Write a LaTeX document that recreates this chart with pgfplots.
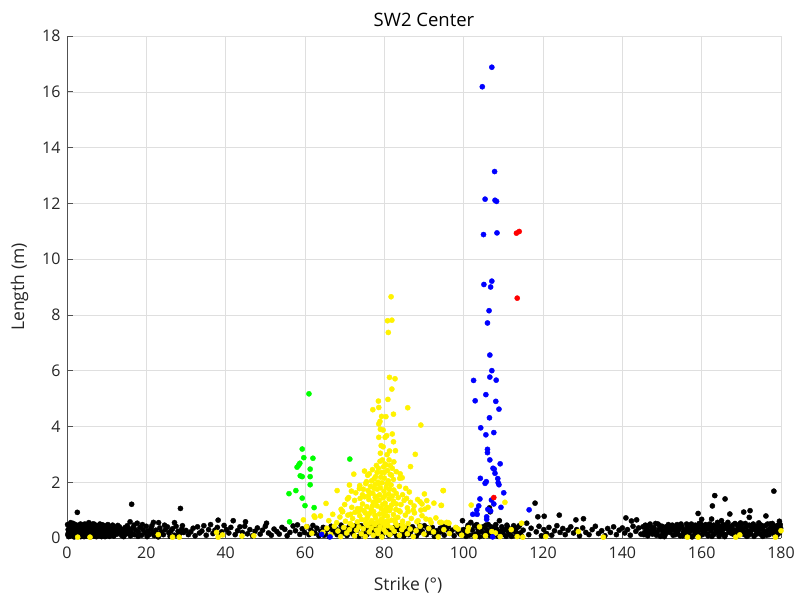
\documentclass[border=0pt]{standalone}
\usepackage{pgfplots}
\pgfplotsset{compat=1.18}
\usepackage{fontspec}
\setmainfont{Open Sans}
\definecolor{axgray}{RGB}{38,38,38}
\definecolor{gridgray}{RGB}{223,223,223}
\begin{document}
\begin{tikzpicture}
\path[use as bounding box] (-67bp,-62bp) rectangle (731bp,538bp);
\begin{axis}[
  scale only axis, width=714bp, height=502bp,
  at={(0,0)}, anchor=south west,
  xmin=0, xmax=180, ymin=0, ymax=18,
  xtick={0,20,...,180}, ytick={0,2,...,18},
  axis x line*=bottom, axis y line*=left,
  axis line style={-, draw=axgray!80, line width=0.6pt},
  tick style={draw=axgray!80, line width=0.6pt},
  tick align=inside, major tick length=6bp,
  grid=major, grid style={draw=gridgray, line width=0.5pt},
  ticklabel style={font=\fontsize{16bp}{18bp}\selectfont, text=axgray},
  xticklabel style={yshift=-5bp},
  yticklabel style={xshift=-3bp},
  /pgf/number format/assume math mode=true,
  xlabel={Strike (°)}, ylabel={Length (m)},
  label style={font=\fontsize{17.5bp}{20bp}\selectfont, text=axgray},
  xlabel style={yshift=-12bp, xshift=-16bp},
  ylabel style={yshift=7bp},
  title={SW2 Center},
  title style={font=\fontsize{18.5bp}{20bp}\selectfont, text=black, yshift=0bp},
  clip=false,
]
% black
\addplot[black, only marks, mark=*, mark size=2.6pt, mark options={draw=black, fill=black}] coordinates {
(0.2,0.12)(0.3,0.30)(0.4,0.05)(0.5,0.22)(0.6,0.40)(0.7,0.15)(0.8,0.33)(0.9,0.08)(1.0,0.26)(1.1,0.45)(1.2,0.18)(1.3,0.36)(1.4,0.10)(1.5,0.28)(1.6,0.52)(1.7,0.20)(1.8,0.04)(1.9,0.38)(2.0,0.24)(2.1,0.14)(2.2,0.31)(2.3,0.47)(2.4,0.09)(2.6,0.92)(2.5,0.27)(2.7,0.19)(2.8,0.35)(2.9,0.06)(3.0,0.42)(3.1,0.23)(3.2,0.13)(3.3,0.30)(3.4,0.50)(3.5,0.17)(3.6,0.37)(3.7,0.08)(3.8,0.26)(3.9,0.44)(4.0,0.15)(4.1,0.32)(4.2,0.21)(4.3,0.05)(4.4,0.39)(4.5,0.28)(4.6,0.11)(4.7,0.48)(4.8,0.19)(4.9,0.34)(5.0,0.07)(5.1,0.25)(5.2,0.41)(5.3,0.16)(5.4,0.30)(5.5,0.55)(5.6,0.12)(5.7,0.36)(5.8,0.22)(5.9,0.04)(6.0,0.44)(6.1,0.27)(6.2,0.14)(6.3,0.33)(6.4,0.09)(6.5,0.40)(6.6,0.20)(6.7,0.30)(6.8,0.50)(6.9,0.13)(7.0,0.24)(7.1,0.37)(7.2,0.06)(7.3,0.29)(7.4,0.45)(7.5,0.18)(7.6,0.34)(7.7,0.11)(7.8,0.26)(7.9,0.42)(8.0,0.21)(8.2,0.35)(8.4,0.08)(8.6,0.29)(8.8,0.47)(9.0,0.16)(9.2,0.38)(9.4,0.24)(9.6,0.05)(9.8,0.32)(10.0,0.44)(10.2,0.14)(10.4,0.27)(10.6,0.36)(10.8,0.10)(11.0,0.22)(11.2,0.40)(11.4,0.18)(11.6,0.30)(11.8,0.07)(12.0,0.25)
(0.35,0.18)(0.85,0.40)(1.25,0.27)(1.75,0.12)(2.15,0.42)(2.65,0.30)(3.15,0.38)(3.65,0.25)(4.15,0.10)(4.65,0.36)(5.15,0.20)(5.65,0.45)(6.15,0.35)(6.65,0.08)(7.15,0.20)(7.65,0.40)(8.1,0.13)(8.5,0.42)(8.9,0.25)(9.3,0.12)(9.7,0.40)(10.1,0.30)(10.5,0.20)(10.9,0.35)(11.3,0.28)(11.7,0.15)
(0.15,0.48)(0.55,0.10)(0.95,0.55)(1.45,0.44)(1.95,0.06)(2.45,0.40)(2.95,0.25)(3.45,0.05)(3.95,0.32)(4.45,0.50)(4.95,0.45)(5.45,0.10)(5.95,0.30)(6.45,0.50)(6.95,0.40)(7.45,0.05)(7.95,0.10)(8.3,0.50)(8.7,0.05)(9.1,0.46)(9.5,0.30)(9.9,0.08)(10.3,0.48)(10.7,0.06)(11.1,0.12)(11.5,0.46)(11.9,0.40)
(12.3,0.35)(12.6,0.14)(12.9,0.28)(13.2,0.40)(13.5,0.20)(13.8,0.09)(14.1,0.31)(14.4,0.22)(14.7,0.38)(15.0,0.15)(15.3,0.27)(15.6,0.33)(15.9,0.58)(16.3,1.21)(16.2,0.20)(16.6,0.36)(17.0,0.12)(17.3,0.29)(17.7,0.53)(18.0,0.22)(18.4,0.38)(18.8,0.10)(19.2,0.30)(19.6,0.18)(20.0,0.42)(20.4,0.25)(20.8,0.13)(21.2,0.34)(21.8,0.56)(21.6,0.20)(22.0,0.09)(22.4,0.28)(23.1,0.55)(22.8,0.16)(23.4,0.36)(23.8,0.22)(24.3,0.12)(24.8,0.30)(25.3,0.40)(25.7,0.18)(26.2,0.26)(26.6,0.33)(27.1,0.55)(27.0,0.10)(27.5,0.42)(28.0,0.24)(28.6,1.06)(28.4,0.15)(28.9,0.31)(29.4,0.20)
(12.8,0.45)(13.6,0.32)(14.3,0.05)(15.2,0.44)(16.0,0.08)(16.9,0.46)(17.9,0.06)(19.0,0.48)(20.2,0.05)(21.4,0.44)(23.0,0.04)(24.6,0.46)(26.0,0.06)(27.8,0.08)(29.1,0.44)
(30.0,0.27)(30.6,0.12)(31.2,0.22)(31.8,0.35)(32.3,0.08)(32.9,0.40)(33.4,0.18)(34.0,0.25)(34.5,0.44)(35.1,0.10)(35.7,0.30)(36.2,0.48)(36.8,0.16)(37.3,0.28)(38.1,0.64)(37.9,0.38)(38.5,0.13)(39.0,0.22)(39.6,0.45)(40.2,0.30)(40.8,0.18)(41.3,0.38)(41.9,0.62)(42.4,0.12)(43.0,0.26)(43.6,0.40)(44.2,0.20)(45.0,0.58)(44.8,0.42)(45.5,0.15)(46.1,0.30)(46.8,0.08)(47.4,0.24)(48.0,0.36)(48.7,0.14)(49.3,0.28)(50.3,0.53)(50.0,0.42)(50.8,0.18)(51.5,0.10)(52.2,0.32)(52.9,0.23)(53.5,0.14)(54.2,0.38)(54.9,0.31)(55.5,0.08)(56.2,0.20)(57.0,0.43)(57.6,0.26)(58.1,0.47)(58.7,0.13)(59.3,0.33)(59.9,0.20)
(60.5,0.40)(61.0,0.12)(61.5,0.28)(62.0,0.45)(62.5,0.18)(63.0,0.35)(63.5,0.08)(64.0,0.24)(64.6,0.38)(65.1,0.15)(65.6,0.30)(66.1,0.05)(66.6,0.42)(67.1,0.22)(67.6,0.35)(68.1,0.12)(68.6,0.28)(69.1,0.46)(69.6,0.18)(70.1,0.32)(70.6,0.09)(71.1,0.40)(71.6,0.24)(72.1,0.14)(72.6,0.36)(73.1,0.28)(73.6,0.06)(74.1,0.44)(74.6,0.20)(75.1,0.33)(75.6,0.12)(76.1,0.26)(76.6,0.40)(77.1,0.17)(77.6,0.30)(78.1,0.07)(78.6,0.38)(79.1,0.22)(79.6,0.14)(80.1,0.34)(80.6,0.46)(81.1,0.10)(81.6,0.28)(82.1,0.19)(82.6,0.38)(83.1,0.08)(83.6,0.30)(84.1,0.44)(84.6,0.16)(85.1,0.26)(85.6,0.36)(86.1,0.12)(86.6,0.22)(87.1,0.40)(87.6,0.30)(88.1,0.08)(88.6,0.18)(89.1,0.34)(89.6,0.24)(90.1,0.44)(90.6,0.12)(91.1,0.30)(91.6,0.20)(92.1,0.38)(92.6,0.06)(93.1,0.26)(93.6,0.16)(94.1,0.35)(94.6,0.22)(95.1,0.10)(95.6,0.30)(96.1,0.40)(96.6,0.18)(97.1,0.28)(97.6,0.08)(98.1,0.36)(98.6,0.22)(99.1,0.14)(99.7,0.62)(99.9,0.30)
(64.8,0.10)(66.9,0.32)(68.9,0.20)(70.9,0.25)(72.9,0.45)(74.9,0.10)(76.9,0.35)(78.9,0.42)(80.9,0.25)(82.9,0.30)(84.9,0.06)(86.9,0.32)(88.9,0.44)(90.9,0.36)(92.9,0.14)(94.9,0.42)
(100.4,0.20)(100.9,0.36)(101.4,0.10)(101.8,0.56)(102.2,0.28)(102.7,0.44)(103.1,0.14)(103.6,0.32)(104.0,0.05)(104.5,0.24)(104.9,0.40)(105.4,0.16)(105.8,0.30)(106.2,0.48)(106.5,1.08)(106.7,0.94)(106.6,0.09)(107.1,0.26)(107.5,0.38)(107.9,0.18)(108.3,0.32)(108.7,0.06)(109.0,0.62)(109.2,0.24)(109.6,0.40)(110.0,0.14)(110.4,0.30)(110.9,0.46)(111.3,0.20)(111.8,0.10)(112.3,0.34)(112.8,0.24)(113.3,0.08)(113.8,0.40)(114.3,0.18)(115.0,0.28)(115.9,0.53)
(100.6,0.06)(101.1,0.46)(101.6,0.30)(102.4,0.10)(103.3,0.48)(103.8,0.22)(104.2,0.35)(105.1,0.08)(105.6,0.46)(106.0,0.22)(106.9,0.40)(107.7,0.10)(108.1,0.48)(108.5,0.24)(109.4,0.12)(109.8,0.30)(110.7,0.06)(111.1,0.38)(111.6,0.26)(112.1,0.06)(112.6,0.44)(113.1,0.30)(113.6,0.16)(114.1,0.45)(114.6,0.08)
(116.4,0.12)(117.0,0.35)(118.0,1.25)(118.7,0.76)(118.3,0.22)(119.0,0.42)(119.6,0.08)(120.3,0.78)(120.2,0.30)(120.9,0.16)(121.5,0.38)(122.2,0.10)(122.9,0.26)(123.5,0.44)(124.1,0.82)(124.3,0.20)(125.0,0.34)(125.6,0.12)(126.3,0.28)(127.0,0.40)(127.7,0.18)(128.3,0.65)(128.5,0.30)(129.2,0.08)(130.2,0.69)(130.0,0.36)(130.8,0.20)(131.6,0.12)(132.4,0.30)(133.2,0.42)(134.0,0.16)(134.8,0.26)(135.6,0.08)(136.3,0.34)(137.0,0.20)(137.8,0.40)(138.5,0.12)(139.2,0.28)(140.0,0.36)(140.9,0.72)(140.6,0.18)(141.3,0.30)(142.0,0.10)(142.3,0.61)(142.7,0.42)(143.6,0.65)(143.4,0.24)(144.1,0.36)(144.7,0.14)
(145.2,0.40)(145.6,0.20)(146.0,0.30)(146.4,0.08)(146.8,0.45)(147.2,0.25)(147.6,0.14)(148.0,0.36)(148.4,0.52)(148.8,0.18)(149.2,0.30)(149.6,0.06)(150.0,0.42)(150.4,0.24)(150.8,0.12)(151.2,0.34)(151.6,0.48)(152.0,0.20)(152.4,0.30)(152.8,0.10)(153.2,0.40)(153.6,0.26)(154.0,0.16)(154.4,0.36)(154.8,0.50)(155.2,0.08)(155.6,0.30)(156.0,0.22)(156.4,0.42)(156.8,0.14)(157.2,0.34)(157.6,0.04)(158.0,0.26)(158.4,0.46)(158.8,0.18)(159.1,0.88)(159.2,0.38)(159.6,0.10)(160.0,0.67)(160.0,0.28)(160.4,0.44)(160.8,0.20)(161.2,0.32)(161.6,0.08)(162.0,0.50)(162.5,0.68)(162.7,1.15)(162.4,0.24)(162.8,0.38)(163.2,0.14)(163.3,1.52)(163.6,0.30)(164.0,0.56)(164.4,0.06)(164.8,0.42)(165.0,0.62)(165.2,0.22)(165.6,0.34)(165.9,1.40)(166.0,0.12)(166.4,0.48)(166.8,0.26)(167.1,0.86)(167.2,0.40)(167.6,0.16)(168.0,0.30)(168.4,0.52)(168.8,0.08)(169.2,0.36)(169.6,0.20)(170.0,0.44)(170.6,0.93)(170.4,0.28)(170.8,0.12)(171.2,0.38)(171.6,0.24)(172.0,0.74)(172.2,0.98)(172.0,0.46)(172.4,0.16)(172.8,0.32)(173.2,0.06)(173.6,0.42)(174.0,0.22)(174.4,0.54)(174.8,0.14)(175.2,0.34)(175.6,0.26)(176.0,0.44)(176.2,0.79)(176.4,0.10)(176.8,0.30)(177.2,0.50)(177.6,0.20)(178.0,0.38)(178.2,1.68)(178.4,0.12)(178.8,0.28)(179.2,0.46)(179.6,0.60)(179.6,0.18)(179.9,0.35)
(145.4,0.12)(146.2,0.36)(147.0,0.50)(147.8,0.28)(148.6,0.10)(149.4,0.44)(150.2,0.18)(151.0,0.40)(151.8,0.26)(152.6,0.46)(153.4,0.12)(154.2,0.30)(155.0,0.40)(155.8,0.16)(156.6,0.32)(157.4,0.50)(158.2,0.12)(159.0,0.22)(159.8,0.50)(160.6,0.36)(161.4,0.14)(162.2,0.30)(163.0,0.46)(163.8,0.20)(164.6,0.28)(165.4,0.48)(166.2,0.36)(167.0,0.20)(167.8,0.46)(168.6,0.26)(169.4,0.12)(170.2,0.34)(171.0,0.52)(171.8,0.10)(172.6,0.40)(173.4,0.30)(174.2,0.38)(175.0,0.46)(175.8,0.12)(176.6,0.50)(177.4,0.36)(178.2,0.24)(179.0,0.10)(179.8,0.48)
(145.8,0.46)(146.6,0.18)(147.4,0.38)(148.2,0.22)(149.0,0.50)(149.8,0.32)(150.6,0.05)(151.4,0.22)(152.2,0.40)(153.0,0.28)(153.8,0.48)(154.6,0.08)(155.4,0.22)(156.2,0.50)(157.0,0.24)(157.8,0.40)(158.6,0.30)(159.4,0.52)(160.2,0.12)(161.0,0.48)(161.8,0.40)(162.6,0.06)(163.4,0.36)(164.2,0.44)(165.0,0.16)(165.8,0.05)(166.6,0.56)(167.4,0.30)(168.2,0.12)(169.0,0.46)(169.8,0.54)(170.6,0.20)(171.4,0.06)(172.2,0.26)(173.0,0.50)(173.8,0.14)(174.6,0.30)(175.4,0.06)(176.2,0.22)(177.0,0.12)(177.8,0.52)(178.6,0.42)(179.4,0.30)
};
% yellow
\addplot[yellow, only marks, mark=*, mark size=2.6pt, mark options={draw=yellow, fill=yellow}] coordinates {
(81.7,8.65)(80.8,7.79)(81.9,7.81)(81.0,7.37)(81.3,5.76)(82.7,5.71)(81.9,5.34)(78.5,4.91)(80.9,4.97)(77.1,4.60)(78.6,4.68)(85.9,4.67)(79.3,4.36)(80.4,4.35)(82.3,4.44)(89.2,4.05)(78.9,4.18)(78.6,4.09)(79.7,3.87)(79.0,3.90)(82.0,3.73)(80.6,3.67)(80.2,3.61)(78.6,3.61)(79.2,3.31)(79.7,3.27)(82.3,3.45)(81.3,3.12)(82.8,3.13)(79.0,3.04)(80.7,2.99)(87.8,3.00)(81.2,2.80)(82.4,2.73)(78.9,2.75)(80.2,2.65)(72.3,2.29)(75.8,2.25)(86.6,2.56)(84.5,2.16)(83.9,2.14)(71.2,1.90)(75.5,2.02)(68.1,1.70)(71.7,1.68)(73.7,1.77)(74.7,1.75)(90.1,1.58)(94.9,1.70)(70.7,1.40)(85.6,1.42)(89.0,1.30)(90.7,1.34)(65.3,1.24)(87.3,1.00)(89.2,1.00)(90.2,1.03)(94.4,1.17)(69.1,1.03)(69.4,0.94)(62.3,0.79)(62.5,0.74)(63.9,0.79)(91.5,0.65)(94.0,0.56)(96.1,0.55)(88.2,0.58)
(94.8,1.70)(94.3,1.17)(101.9,1.18)(110.4,1.28)(94.4,0.56)(95.7,0.56)(96.3,0.53)(98.6,0.32)(101.2,0.37)(102.9,0.05)(107.1,0.23)(109.2,0.05)(114.6,0.53)(120.7,0.05)(59.6,0.65)(60.4,0.41)(61.7,0.17)
(75.0,2.40)(76.2,2.30)(77.0,2.45)(77.8,2.20)(78.5,2.50)(79.3,2.35)(80.0,2.15)(80.8,2.42)(81.5,2.28)(82.3,2.10)(83.0,2.38)(76.8,2.05)(79.8,2.55)(78.0,2.60)(80.4,2.62)(81.0,2.05)(77.4,2.12)(82.0,2.50)(84.0,2.30)
(72.8,1.62)(73.8,1.88)(74.5,1.55)(75.3,1.95)(75.9,1.70)(76.5,1.85)(77.1,1.60)(77.7,1.92)(78.2,1.75)(78.8,1.55)(79.4,1.98)(79.9,1.68)(80.5,1.82)(81.1,1.58)(81.7,1.90)(82.4,1.72)(83.0,1.60)(83.8,1.85)(84.6,1.55)(85.4,1.78)(86.3,1.65)(76.0,1.52)(78.5,1.95)(80.2,1.52)(81.3,1.75)(79.0,1.80)(77.4,1.78)
(70.0,1.20)(71.0,1.45)(71.8,1.10)(72.5,1.35)(73.2,1.05)(73.9,1.42)(74.5,1.22)(75.0,1.48)(75.6,1.12)(76.1,1.38)(76.7,1.02)(77.2,1.28)(77.7,1.46)(78.2,1.15)(78.7,1.35)(79.2,1.06)(79.7,1.44)(80.2,1.25)(80.7,1.10)(81.2,1.40)(81.8,1.18)(82.3,1.32)(82.9,1.02)(83.5,1.45)(84.2,1.20)(85.0,1.35)(85.8,1.08)(86.6,1.28)(87.5,1.15)(88.4,1.38)(89.5,1.22)(91.0,1.10)(92.5,1.25)(74.0,1.05)(78.0,1.48)(80.0,1.00)(83.0,1.22)
(66.0,0.62)(67.0,0.85)(68.0,0.55)(68.8,0.75)(69.5,0.95)(70.2,0.60)(70.8,0.82)(71.4,0.52)(72.0,0.70)(72.6,0.92)(73.2,0.58)(73.8,0.80)(74.3,0.66)(74.8,0.98)(75.3,0.54)(75.8,0.76)(76.3,0.88)(76.8,0.62)(77.3,0.95)(77.8,0.72)(78.3,0.56)(78.8,0.86)(79.3,0.68)(79.8,0.92)(80.3,0.58)(80.8,0.78)(81.3,0.98)(81.8,0.64)(82.3,0.84)(82.8,0.55)(83.4,0.74)(84.0,0.94)(84.6,0.60)(85.3,0.82)(86.0,0.52)(86.8,0.70)(87.6,0.90)(88.5,0.62)(89.5,0.80)(90.5,0.68)(91.8,0.55)(93.0,0.72)(75.5,0.68)(77.5,0.52)(79.5,0.55)(80.5,0.96)
(64.5,0.20)(65.5,0.35)(66.5,0.12)(67.4,0.42)(68.3,0.25)(69.0,0.05)(69.8,0.38)(70.5,0.18)(71.2,0.30)(71.9,0.46)(72.5,0.08)(73.0,0.28)(73.6,0.40)(74.2,0.15)(74.7,0.33)(75.2,0.05)(75.7,0.45)(76.2,0.22)(76.7,0.36)(77.2,0.10)(77.6,0.48)(78.0,0.28)(78.4,0.16)(78.9,0.40)(79.4,0.04)(79.9,0.30)(80.4,0.20)(80.9,0.44)(81.4,0.12)(81.9,0.36)(82.5,0.24)(83.2,0.46)(83.8,0.10)(84.4,0.30)(85.0,0.40)(85.8,0.15)(86.5,0.32)(87.3,0.05)(88.0,0.26)(89.0,0.42)(90.0,0.14)(91.2,0.34)(92.4,0.22)(93.6,0.04)(95.0,0.30)(96.4,0.16)(98.0,0.38)(99.5,0.10)(101.0,0.25)(104.0,0.40)(105.5,0.08)(108.0,0.18)(112.0,0.30)(113.5,0.05)
(76.4,1.62)(77.9,1.30)(79.6,1.20)(81.5,1.05)(78.4,2.00)(80.7,1.95)(79.1,2.18)(77.6,0.82)(80.0,0.80)(82.0,1.50)(75.2,0.90)(83.7,0.98)(78.6,0.28)(80.2,0.45)(76.5,0.55)(82.7,0.66)(79.0,0.62)(81.0,0.60)(77.0,1.15)(84.5,0.48)(73.5,0.95)(71.5,0.85)(86.0,0.95)(80.0,2.35)(78.2,2.35)(81.8,2.25)(79.5,2.80)(81.5,2.60)
(2.7,0.03)(5.8,0.03)(23.0,0.12)(26.6,0.03)(28.3,0.03)(37.7,0.20)(38.1,0.03)(39.2,0.11)(44.1,0.07)(47.1,0.08)(114.9,0.03)(128.9,0.23)(135.2,0.03)(156.4,0.03)(159.1,0.03)(168.6,0.03)(169.6,0.11)(178.6,0.03)(180.0,0.26)
};
% green
\addplot[green, only marks, mark=*, mark size=2.6pt, mark options={draw=green, fill=green}] coordinates {
(61.0,5.17)(59.3,3.19)(59.7,2.88)(62.0,2.86)(58.7,2.68)(58.4,2.61)(58.0,2.54)(61.3,2.47)(58.8,2.23)(59.3,2.20)(61.3,2.20)(61.3,1.91)(71.3,2.83)(57.7,1.70)(55.96,1.59)(59.3,1.43)(60.0,1.16)(62.3,1.09)(56.1,0.58)
};
% blue
\addplot[blue, only marks, mark=*, mark size=2.6pt, mark options={draw=blue, fill=blue}] coordinates {
(107.1,16.88)(104.7,16.18)(107.8,13.14)(105.4,12.15)(107.9,12.11)(108.3,12.07)(105.0,10.88)(108.4,10.94)(105.1,9.09)(107.1,9.21)(106.8,9.00)
(106.4,8.15)(106.0,7.71)(106.6,6.56)(107.1,6.00)(106.6,5.77)(108.2,5.66)(102.5,5.65)(105.6,5.14)(102.9,4.92)(108.1,4.90)(108.9,4.62)(106.5,4.31)(104.3,3.95)(105.6,3.70)(107.6,3.78)(106.0,3.18)(106.0,3.06)(106.6,2.80)(109.2,2.66)(107.4,2.50)(107.7,2.47)(107.9,2.32)(108.6,2.13)(104.2,2.14)(105.7,2.02)(105.4,1.96)(108.9,1.91)(108.7,1.98)(110.1,1.62)(104.1,1.40)(107.0,1.36)(107.6,1.22)(103.8,1.15)(103.3,1.00)(106.1,1.03)(102.3,0.85)(103.4,0.85)(109.4,1.10)(105.8,0.76)(105.8,0.67)(106.8,0.97)(116.5,1.01)(107.3,0.04)(64.2,0.13)(66.3,0.04)
};
% red
\addplot[red, only marks, mark=*, mark size=2.6pt, mark options={draw=red, fill=red}] coordinates {
(113.3,10.93)(114.0,10.99)(113.5,8.60)(107.6,1.45)
};
\end{axis}
\end{tikzpicture}
\end{document}
